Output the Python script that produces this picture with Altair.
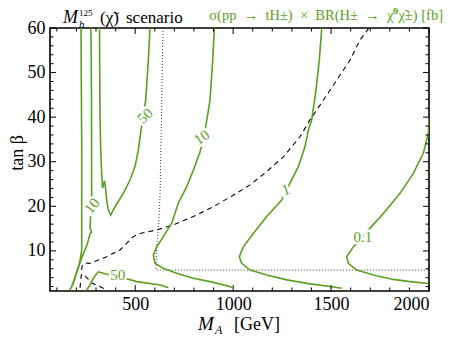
import altair as alt
import pandas as pd

GREEN = "#5b9f1f"
SERIF = "Liberation Serif"

# ---- contour lines of sigma(pp->tH) x BR [fb]  (M_A in GeV, tan beta) ----
c50u_ma = [575.6, 567, 553.6, 541.4, 529.6, 515.9, 499, 473.5, 439.3, 396.9, 374.9,
           362.7, 354.5, 348.4, 343.3, 333, 329, 323.9, 320.3, 317.7]
c50u_tb = [60, 52.8, 43.8, 40.5, 37.1, 32.6, 28.9, 25.9, 22.9, 19.9, 18.0,
           19.2, 21.4, 24.1, 25.7, 24.1, 27.4, 32.6, 40.1, 60]

c10l_ma = [274.3, 276.9, 277.9, 272.8, 269.2, 277.9, 269.2, 253.9, 228.4, 208, 192.7, 177.3]
c10l_tb = [60, 43.8, 21.4, 18.0, 15.1, 14.2, 13.8, 11.3, 8.6, 6.2, 3.9, 2.1]

cleft_ma = [223.3, 226.9, 226.9, 214.6, 192.7, 175.8, 164.6]
cleft_tb = [60, 32.6, 10.2, 6.8, 4.1, 1.9, 1.2]

c50b_ma = [252, 269.2, 286, 311.6, 337.2, 371.4, 407, 447.9, 507.7, 575.6, 626.7, 669]
c50b_tb = [1.2, 2.35, 3.85, 5.3, 5.0, 4.6, 4.4, 3.85, 3.1, 2.7, 2.35, 1.75]

c10_ma = [904, 895.8, 882, 861.5, 830.9, 796.7, 763, 720.1, 686.4, 643.5, 609.8,
          592.5, 601.1, 643.5, 712, 796.7, 882, 984, 994.3]
c10_tb = [60, 52.8, 43.8, 38.2, 32.2, 28.1, 24.4, 20.7, 16.2, 13.2, 10.9,
          9.1, 7.2, 6.1, 5.0, 3.85, 3.1, 2.0, 1.7]

c1_ma = [1452.3, 1440, 1423.2, 1401.2, 1384, 1367, 1332.8, 1290.4, 1248, 1171.5, 1103,
         1052, 1031.6, 1043.8, 1086.2, 1171.5, 1273.6, 1392.6, 1494.7, 1554.4]
c1_tb = [60, 52.8, 46.1, 39.4, 37.1, 33.4, 28.9, 25.2, 21.4, 17.7, 13.9,
         10.9, 8.7, 7.2, 5.7, 4.6, 3.5, 2.6, 2.0, 1.6]

c01_ma = [2000, 1996.6, 1971, 1920, 1852, 1766.9, 1699, 1613.7, 1580, 1588.2, 1631,
          1715.8, 1817.9, 1903, 1996.6]
c01_tb = [40, 36.4, 31.9, 27.4, 22.9, 18.4, 15.1, 10.9, 8.7, 7.2, 5.7,
          4.6, 3.6, 3.1, 2.7]

# ---- dashed and dotted black boundaries ----
dash_ma = [218.2, 223.3, 228.4, 243.7, 269.2, 354.5, 422.4, 490.3, 524.5, 609.8, 694.6,
           796.7, 898.8, 1001, 1086, 1171.5, 1256.2, 1341.5, 1392.6, 1460.5, 1529,
           1596.8, 1647.9, 1690.3]
dash_tb = [1.7, 3.9, 6.6, 7.3, 7.2, 8.7, 10.2, 13.2, 13.9, 14.7, 15.8,
           17.7, 19.9, 22.5, 24.8, 27.8, 31.1, 35.6, 39.4, 43.8, 48.3,
           52.8, 57.3, 59.8]
dash2_ma = [243.7, 279.5, 345.8]
dash2_tb = [4.4, 2.8, 1.45]

dot_ma = [642, 626.7, 618, 609.8, 606.2, 2000]
dot_tb = [60, 22.2, 14.7, 10.9, 5.7, 5.7]

# ---- contour labels ----
lab_text = ["50", "10", "10", "1", "0.1", "50"]
lab_ma = [550, 838.6, 279.5, 1270, 1663, 410.7]
lab_tb = [40.3, 35.5, 20.1, 23.7, 13.1, 4.6]
lab_angle = [276, 283, 270, 296, 312, 12]

# ---- ticks ----
x_major = [500, 1000, 1500, 2000]
x_minor = [100, 200, 300, 400, 600, 700, 800, 900, 1100, 1200, 1300, 1400,
           1600, 1700, 1800, 1900]
y_major = [10, 20, 30, 40, 50, 60]
y_minor = [2, 4, 6, 8, 12, 14, 16, 18, 22, 24, 26, 28, 32, 34, 36, 38,
           42, 44, 46, 48, 52, 54, 56, 58]

W, H = 379, 263
XD, YD = [65, 2000], [1, 60]


def frame(name, xs, ys):
    return pd.DataFrame({"ma": xs, "tb": ys, "line": name, "o": range(len(xs))})


green_df = pd.concat([
    frame("c50u", c50u_ma, c50u_tb), frame("c10l", c10l_ma, c10l_tb),
    frame("cleft", cleft_ma, cleft_tb), frame("c50b", c50b_ma, c50b_tb),
    frame("c10", c10_ma, c10_tb), frame("c1", c1_ma, c1_tb),
    frame("c01", c01_ma, c01_tb)])
dash_df = pd.concat([frame("d1", dash_ma, dash_tb), frame("d2", dash2_ma, dash2_tb)])
dot_df = frame("dot", dot_ma, dot_tb)
lab_df = pd.DataFrame({"t": lab_text, "ma": lab_ma, "tb": lab_tb, "a": lab_angle})

xs = alt.Scale(domain=XD, nice=False, zero=False)
ys = alt.Scale(domain=YD, nice=False, zero=False)
X = alt.X("ma:Q", scale=xs, axis=alt.Axis(values=x_major, format="d", title=None, ticks=False,
                                          domain=False, grid=False, labelFont=SERIF,
                                          labelFontSize=18, labelPadding=4, labelColor="black"))
Y = alt.Y("tb:Q", scale=ys, axis=alt.Axis(values=y_major, format="d", title=None, ticks=False,
                                          domain=False, grid=False, labelFont=SERIF,
                                          labelFontSize=18, labelPadding=5, labelColor="black"))

green = alt.Chart(green_df).mark_line(color=GREEN, strokeWidth=1.6, clip=True).encode(
    x=X, y=Y, detail="line:N", order="o:Q")
dashed = alt.Chart(dash_df).mark_line(color="black", strokeWidth=1.1, strokeDash=[5, 4],
                                      clip=True).encode(
    x=alt.X("ma:Q", scale=xs), y=alt.Y("tb:Q", scale=ys), detail="line:N", order="o:Q")
dotted = alt.Chart(dot_df).mark_line(color="#333333", strokeWidth=1, strokeDash=[1, 2],
                                     clip=True).encode(
    x=alt.X("ma:Q", scale=xs), y=alt.Y("tb:Q", scale=ys), order="o:Q")

halo = alt.Chart(lab_df).mark_text(font=SERIF, fontSize=15, color="white", stroke="white",
                                   strokeWidth=5, align="center", baseline="middle").encode(
    x=alt.X("ma:Q", scale=xs), y=alt.Y("tb:Q", scale=ys), text="t:N", angle="a:Q")
labels = alt.Chart(lab_df).mark_text(font=SERIF, fontSize=15, color=GREEN, align="center",
                                     baseline="middle").encode(
    x=alt.X("ma:Q", scale=xs), y=alt.Y("tb:Q", scale=ys), text="t:N", angle="a:Q")


def xticks(vals, length, top):
    y0, y1 = (0, length) if top else (H, H - length)
    return alt.Chart(pd.DataFrame({"v": vals})).mark_rule(color="black", strokeWidth=1).encode(
        x=alt.X("v:Q", scale=xs), y=alt.value(y0), y2=alt.value(y1))


def yticks(vals, length, right):
    x0, x1 = (W, W - length) if right else (0, length)
    return alt.Chart(pd.DataFrame({"v": vals})).mark_rule(color="black", strokeWidth=1).encode(
        y=alt.Y("v:Q", scale=ys), x=alt.value(x0), x2=alt.value(x1))


ticks = [xticks(x_major, 6, False), xticks(x_major, 6, True),
         xticks(x_minor, 3.5, False), xticks(x_minor, 3.5, True),
         yticks(y_major, 6, False), yticks(y_major, 6, True),
         yticks(y_minor, 3.5, False), yticks(y_minor, 3.5, True)]

one = pd.DataFrame({"k": [0]})


def txt(s, x, y, size, color="black", italic=False, align="left", angle=0):
    kw = dict(font=SERIF, fontSize=size, color=color, align=align, baseline="alphabetic")
    if italic:
        kw["fontStyle"] = "italic"
    if angle:
        kw["angle"] = angle
    return alt.Chart(one).mark_text(**kw).encode(x=alt.value(x), y=alt.value(y),
                                                 text=alt.value(s))


texts = [
    txt("M", 13, -5, 18, italic=True),
    txt("125", 29, -12, 9),
    txt("h", 29, 0, 11, italic=True),
    txt("(χ̃)", 50, -5, 17),
    txt("scenario", 76, -5, 17),
    txt("σ(pp\u2002→\u2002tH±)\u2002×\u2002BR(H±\u2002→\u2002χ̃⁰χ̃±) [fb]", 393, -8, 14.5,
        color=GREEN, align="right"),
    txt("M", 148, 302, 19, italic=True),
    txt("A", 165, 306, 12, italic=True),
    txt("[GeV]", 184, 302, 18),
    txt("tan β", -27, 125, 18, align="center", angle=270),
]

chart = alt.layer(dotted, dashed, green, halo, labels, *ticks, *texts).properties(
    width=W, height=H,
    autosize=alt.AutoSizeParams(type="none"),
    padding={"left": 42, "top": 20, "right": 17, "bottom": 50},
).configure_view(stroke="black", strokeWidth=1.6)

chart.save("out.html", embed_options={"renderer": "svg", "actions": False})
